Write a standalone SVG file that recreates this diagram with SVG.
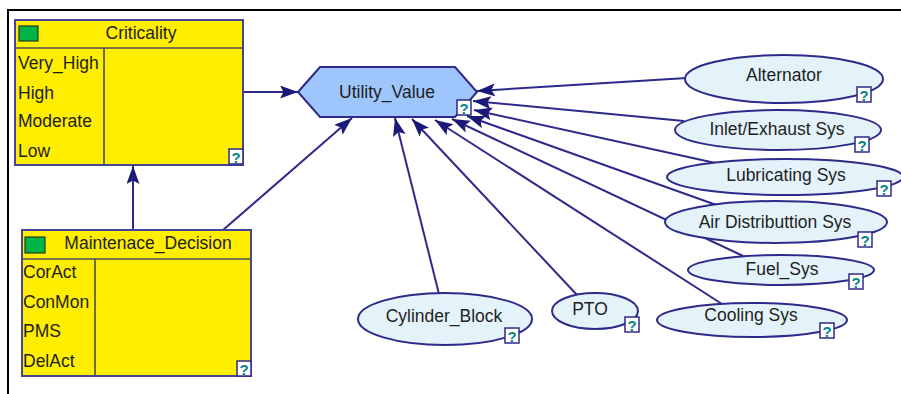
<svg xmlns="http://www.w3.org/2000/svg" width="901" height="394" viewBox="0 0 901 394">
<style>
text{font-family:"Liberation Sans",Arial,sans-serif;fill:#1e1e1e;}
.lbl{font-size:17.5px;}
.ttl{font-size:17.5px;text-anchor:middle;}
.box{fill:#ffee00;stroke:#45459a;stroke-width:2;}
.div{stroke:#4a4a5a;stroke-width:1.6;}
.grn{fill:#00b447;stroke:#1f3d1f;stroke-width:1.2;}
.ell{fill:#e4f3fa;stroke:#2e2a8a;stroke-width:2;}
.hex{fill:#9fc6fc;stroke:#2e2a8a;stroke-width:2;}
.q rect{fill:#fff;stroke:#2e2a8a;stroke-width:1.5;}
.q text{font-size:15px;font-weight:bold;fill:#00868a;text-anchor:middle;}
.con line{stroke:#2e2a8a;stroke-width:2;fill:none;marker-end:url(#ah);}
.frame{stroke:#000;stroke-width:2;}
</style>
<defs>
<marker id="ah" markerUnits="userSpaceOnUse" markerWidth="20" markerHeight="14" refX="18" refY="6.5" orient="auto">
<path d="M0,0 L18,6.5 L0,13 L3.5,6.5 z" fill="#1c1a78"/>
</marker>
<g id="qicon" class="q"><rect x="0" y="0" width="14" height="15"/><text x="7" y="13.5">?</text></g>
</defs>
<rect width="901" height="394" fill="#fff"/>
<line class="frame" x1="8" y1="10" x2="901" y2="10"/>
<line class="frame" x1="8" y1="9" x2="8" y2="394"/>

<g id="connectors" class="con">
<line x1="243" y1="92" x2="298" y2="92"/>
<line x1="133" y1="230" x2="133" y2="166"/>
<line x1="223" y1="230" x2="352" y2="118"/>
<line x1="439" y1="294" x2="395" y2="118"/>
<line x1="578" y1="296" x2="412" y2="119"/>
<line x1="722" y1="304" x2="435" y2="120"/>
<line x1="743" y1="256" x2="452" y2="119"/>
<line x1="722" y1="207" x2="467" y2="116"/>
<line x1="720" y1="164" x2="474" y2="110"/>
<line x1="684" y1="121" x2="473" y2="101"/>
<line x1="687" y1="78" x2="477" y2="91"/>
</g>

<g id="Criticality">
<rect class="box" x="15" y="20" width="228" height="145"/>
<line class="div" x1="15" y1="48" x2="243" y2="48"/>
<line class="div" x1="104" y1="48" x2="104" y2="165"/>
<rect class="grn" x="19" y="26" width="19" height="15"/>
<text class="ttl" x="141" y="39">Criticality</text>
<text class="lbl" x="18" y="69">Very_High</text>
<text class="lbl" x="18" y="99">High</text>
<text class="lbl" x="18" y="127">Moderate</text>
<text class="lbl" x="18" y="157">Low</text>
<use href="#qicon" x="229" y="149"/>
</g>

<g id="Maintenace_Decision">
<rect class="box" x="22" y="230" width="229" height="146"/>
<line class="div" x1="22" y1="259" x2="251" y2="259"/>
<line class="div" x1="95" y1="259" x2="95" y2="376"/>
<rect class="grn" x="25" y="237" width="20" height="16"/>
<text class="ttl" x="148" y="249">Maintenace_Decision</text>
<text class="lbl" x="23" y="278">CorAct</text>
<text class="lbl" x="23" y="308">ConMon</text>
<text class="lbl" x="23" y="337">PMS</text>
<text class="lbl" x="23" y="367">DelAct</text>
<use href="#qicon" x="237" y="361"/>
</g>

<g id="Utility_Value">
<polygon class="hex" points="298,92 320,67 455,67 477,92 455,117 320,117"/>
<text class="ttl" x="387" y="98">Utility_Value</text>
<use href="#qicon" x="457" y="100"/>
</g>

<g id="Alternator">
<ellipse class="ell" cx="784" cy="79" rx="99" ry="24"/>
<text class="ttl" x="784" y="81">Alternator</text>
<use href="#qicon" x="857" y="87"/>
</g>

<g id="Inlet_Exhaust_Sys">
<ellipse class="ell" cx="778" cy="130" rx="103" ry="20"/>
<text class="ttl" x="777" y="135">Inlet/Exhaust Sys</text>
<use href="#qicon" x="855" y="137"/>
</g>

<g id="Lubricating_Sys">
<ellipse class="ell" cx="785" cy="177" rx="118" ry="18"/>
<text class="ttl" x="786" y="181">Lubricating Sys</text>
<use href="#qicon" x="877" y="181"/>
</g>

<g id="Air_Distributtion_Sys">
<ellipse class="ell" cx="776" cy="222" rx="111" ry="21"/>
<text class="ttl" x="775" y="228">Air Distributtion Sys</text>
<use href="#qicon" x="858" y="232"/>
</g>

<g id="Fuel_Sys">
<ellipse class="ell" cx="781" cy="270" rx="93" ry="15"/>
<text class="ttl" x="782" y="275">Fuel_Sys</text>
<use href="#qicon" x="849" y="274"/>
</g>

<g id="Cooling_Sys">
<ellipse class="ell" cx="752" cy="320" rx="95" ry="17"/>
<text class="ttl" x="751" y="321">Cooling Sys</text>
<use href="#qicon" x="820" y="323"/>
</g>

<g id="Cylinder_Block">
<ellipse class="ell" cx="445" cy="319" rx="87" ry="26"/>
<text class="ttl" x="444" y="322">Cylinder_Block</text>
<use href="#qicon" x="505" y="328"/>
</g>

<g id="PTO">
<ellipse class="ell" cx="595" cy="311" rx="43" ry="18"/>
<text class="ttl" x="590" y="315">PTO</text>
<use href="#qicon" x="625" y="317"/>
</g>
</svg>
